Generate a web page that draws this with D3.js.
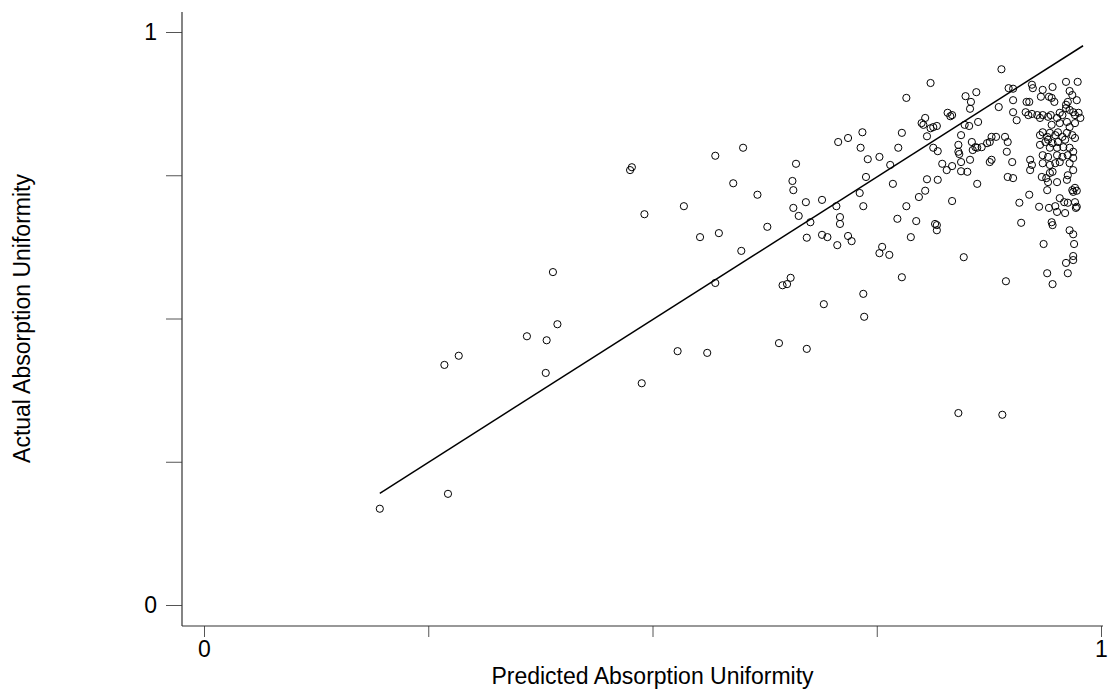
<!DOCTYPE html>
<html>
<head>
<meta charset="utf-8">
<script src="https://cdn.jsdelivr.net/npm/d3@7/dist/d3.min.js"></script>
<style>
  html, body { margin: 0; padding: 0; background: #fff; }
  svg { display: block; }
  text { font-family: "Liberation Sans", Arial, sans-serif; fill: #000; }
</style>
</head>
<body>
<svg id="chart" width="1119" height="690"></svg>
<script>
// ---- data ----
const predicted = [
  0.196,0.272,0.268,0.284,0.360,0.382,0.394,0.381,0.389,0.475,0.477,0.491,0.488,0.528,0.535,0.553,0.561,0.570,0.570,0.574,
  0.590,0.599,0.601,0.617,0.628,0.641,0.645,0.650,0.654,0.660,0.656,0.657,0.657,0.663,0.671,0.676,0.672,0.672,0.689,0.689,
  0.695,0.691,0.705,0.706,0.707,0.718,0.709,0.709,0.718,0.722,0.732,0.734,0.740,0.753,0.738,0.731,0.735,0.735,0.736,0.756,
  0.753,0.764,0.768,0.773,0.774,0.778,0.778,0.783,0.810,0.849,0.861,0.855,0.854,0.863,0.889,0.886,0.829,0.832,0.834,0.804,
  0.800,0.802,0.810,0.813,0.817,0.806,0.848,0.853,0.844,0.841,0.841,0.842,0.844,0.854,0.813,0.818,0.856,0.860,0.857,0.862,
  0.867,0.873,0.876,0.878,0.883,0.823,0.828,0.834,0.844,0.851,0.876,0.878,0.806,0.818,0.862,0.765,0.804,0.797,0.834,0.783,
  0.794,0.815,0.817,0.817,0.788,0.847,0.841,0.890,
  0.897,0.902,0.923,0.924,0.935,0.946,0.961,0.974,0.965,0.968,0.902,0.917,0.920,0.933,0.942,0.945,0.948,0.963,0.961,0.973,
  0.902,0.906,0.916,0.919,0.923,0.929,0.932,0.935,0.941,0.944,0.951,0.954,0.957,0.961,0.965,0.969,0.971,0.975,0.977,0.945,
  0.954,0.962,0.971,0.965,0.893,0.896,0.895,
  0.932,0.935,0.940,0.941,0.943,0.949,0.952,0.957,0.962,0.968,0.971,0.960,0.952,0.946,0.938,0.932,0.943,0.951,0.958,0.965,
  0.969,0.963,0.969,0.935,0.941,0.951,0.957,0.921,0.923,0.935,0.943,0.949,0.954,0.965,0.969,0.901,
  0.896,0.902,0.921,0.934,0.939,0.943,0.941,0.951,0.946,0.963,0.962,0.968,0.971,0.973,0.969,0.940,0.920,0.909,0.931,0.942,
  0.949,0.951,0.954,0.959,0.963,0.960,0.971,0.973,0.972,0.911,0.945,0.946,0.965,0.969,0.970,0.936,0.969,0.969,0.961,0.940,
  0.963,0.894,0.946
];
const actual = [
  0.168,0.194,0.419,0.435,0.469,0.462,0.490,0.405,0.581,0.759,0.764,0.682,0.387,0.443,0.696,0.642,0.440,0.562,0.784,0.649,
  0.736,0.618,0.798,0.716,0.660,0.457,0.558,0.560,0.571,0.770,0.740,0.724,0.693,0.679,0.703,0.668,0.641,0.447,0.707,0.646,
  0.642,0.525,0.696,0.628,0.808,0.815,0.677,0.665,0.644,0.635,0.798,0.825,0.778,0.782,0.747,0.719,0.696,0.543,0.503,0.625,
  0.614,0.611,0.735,0.674,0.798,0.824,0.572,0.885,0.911,0.888,0.895,0.878,0.866,0.843,0.935,0.869,0.859,0.853,0.855,0.850,
  0.841,0.838,0.832,0.834,0.836,0.818,0.838,0.836,0.820,0.803,0.791,0.787,0.773,0.777,0.798,0.792,0.808,0.799,0.794,0.798,
  0.799,0.806,0.808,0.817,0.817,0.770,0.759,0.766,0.757,0.756,0.773,0.777,0.743,0.742,0.735,0.768,0.723,0.712,0.705,0.696,
  0.670,0.665,0.663,0.654,0.642,0.607,0.335,0.332,
  0.902,0.901,0.908,0.902,0.899,0.904,0.913,0.913,0.897,0.890,0.881,0.878,0.878,0.887,0.887,0.885,0.878,0.878,0.873,0.881,
  0.860,0.846,0.860,0.855,0.857,0.855,0.850,0.855,0.852,0.855,0.850,0.859,0.855,0.867,0.864,0.860,0.855,0.859,0.850,0.838,
  0.841,0.843,0.841,0.834,0.817,0.808,0.791,
  0.820,0.825,0.817,0.812,0.824,0.820,0.825,0.817,0.824,0.820,0.815,0.812,0.808,0.806,0.808,0.803,0.798,0.798,0.799,0.798,
  0.791,0.785,0.780,0.785,0.782,0.785,0.782,0.777,0.768,0.771,0.768,0.771,0.773,0.771,0.759,0.773,
  0.747,0.745,0.759,0.747,0.745,0.754,0.738,0.738,0.756,0.750,0.742,0.724,0.728,0.723,0.721,0.724,0.716,0.702,0.695,0.693,
  0.696,0.686,0.710,0.703,0.702,0.684,0.703,0.695,0.693,0.667,0.668,0.663,0.654,0.647,0.630,0.630,0.609,0.602,0.597,0.579,
  0.579,0.565,0.560
];
const fitX = [0.196, 0.980];
const fitY = [0.195, 0.976];
const xTicks = [0, 0.25, 0.5, 0.75, 1];
const yTicks = [0, 0.25, 0.5, 0.75, 1];
const tickLabels = { 0: "0", 1: "1" };
const xTitle = "Predicted Absorption Uniformity";
const yTitle = "Actual Absorption Uniformity";

// ---- drawing ----
const svg = d3.select("#chart");
const x = d3.scaleLinear().domain([0, 1]).range([204, 1101]);
const y = d3.scaleLinear().domain([0, 1]).range([605, 32]);

const axisX = 182, axisY = 626;
const fs = 23;
const fmt = d => (tickLabels[d] !== undefined ? tickLabels[d] : "");

// x axis
const gx = svg.append("g").attr("transform", `translate(0,${axisY})`)
  .call(d3.axisBottom(x).tickValues(xTicks).tickFormat(fmt).tickSize(11).tickPadding(4));
gx.select(".domain").remove();
gx.selectAll(".tick line").attr("stroke", "#555");
gx.selectAll(".tick text").attr("font-size", fs).attr("font-family", "Liberation Sans, Arial, sans-serif").attr("fill", "#000");
svg.append("line").attr("x1", axisX).attr("x2", 1103).attr("y1", axisY).attr("y2", axisY)
  .attr("stroke", "#333").attr("stroke-width", 1.2);

// y axis
const gy = svg.append("g").attr("transform", `translate(${axisX},0)`)
  .call(d3.axisLeft(y).tickValues(yTicks).tickFormat(fmt).tickSize(16).tickPadding(9));
gy.select(".domain").remove();
gy.selectAll(".tick line").attr("stroke", "#555");
gy.selectAll(".tick text").attr("font-size", fs).attr("font-family", "Liberation Sans, Arial, sans-serif").attr("fill", "#000");
svg.append("line").attr("x1", axisX).attr("x2", axisX).attr("y1", 12).attr("y2", axisY)
  .attr("stroke", "#333").attr("stroke-width", 1.2);

// titles
svg.append("text").attr("x", x(0.5)).attr("y", 684).attr("text-anchor", "middle")
  .attr("font-size", fs).text(xTitle);
svg.append("text").attr("transform", `translate(30,${y(0.5)}) rotate(-90)`).attr("text-anchor", "middle")
  .attr("font-size", fs).text(yTitle);

// regression line
svg.append("line")
  .attr("x1", x(fitX[0])).attr("y1", y(fitY[0]))
  .attr("x2", x(fitX[1])).attr("y2", y(fitY[1]))
  .attr("stroke", "#000").attr("stroke-width", 1.5);

// points
svg.append("g").selectAll("circle").data(predicted.map((p, i) => [p, actual[i]]))
  .join("circle")
  .attr("cx", d => x(d[0])).attr("cy", d => y(d[1])).attr("r", 3.6)
  .attr("fill", "none").attr("stroke", "#000").attr("stroke-width", 1);
</script>
</body>
</html>
